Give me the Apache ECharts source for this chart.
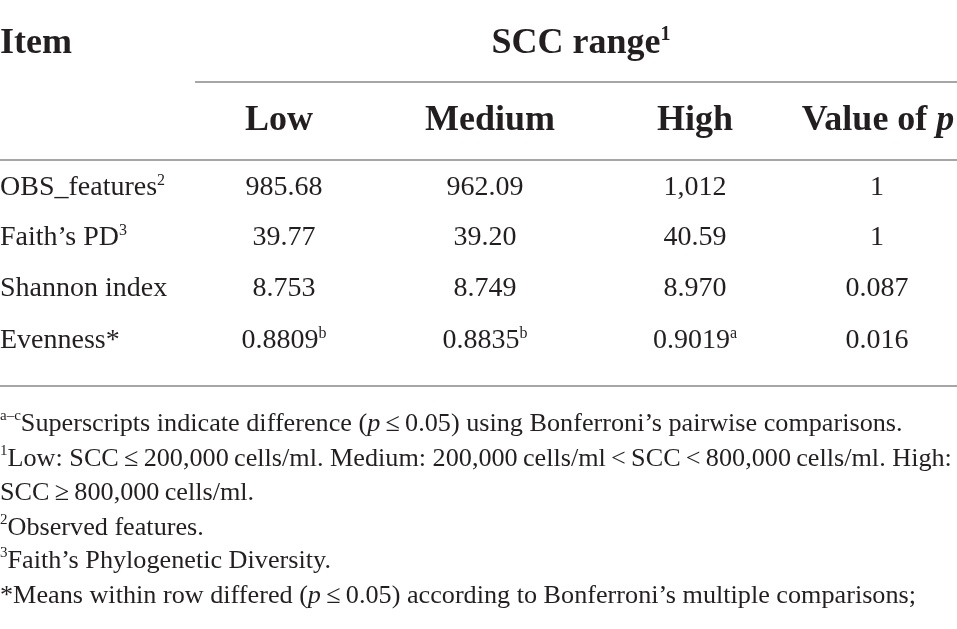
<!DOCTYPE html>
<html>
<head>
    <meta charset="utf-8">
    <title>SCC range table</title>
    <script src="https://cdn.jsdelivr.net/npm/echarts@6/dist/echarts.min.js"></script>
    <style>
        html, body { margin: 0; padding: 0; background: #ffffff; }
        #table-chart { width: 957px; height: 629px; }
    </style>
</head>
<body>
<div id="table-chart"></div>
<script>
    // table content
    var stubTitle = 'Item';
    var groupTitle = 'SCC range';
    var groupNote = '1';
    var columns = ['Low', 'Medium', 'High', 'Value of '];
    var items = ['OBS_features', 'Faith\u2019s PD', 'Shannon index', 'Evenness*'];
    var itemNotes = ['2', '3', '', ''];
    var lowValues = ['985.68', '39.77', '8.753', '0.8809'];
    var lowLetters = ['', '', '', 'b'];
    var mediumValues = ['962.09', '39.20', '8.749', '0.8835'];
    var mediumLetters = ['', '', '', 'b'];
    var highValues = ['1,012', '40.59', '8.970', '0.9019'];
    var highLetters = ['', '', '', 'a'];
    var pValues = ['1', '1', '0.087', '0.016'];
    var T = '\u2009'; // thin space
    var footnotes = [
        '{s|a\u2013c}{n|Superscripts indicate difference (}{i|p}{n|' + T + '\u2264' + T + '0.05) using Bonferroni\u2019s pairwise comparisons.}',
        '{s|1}{n|Low: SCC' + T + '\u2264' + T + '200,000' + T + 'cells/ml. Medium: 200,000' + T + 'cells/ml' + T + '<' + T + 'SCC' + T + '<' + T + '800,000' + T + 'cells/ml. High:}',
        '{n|SCC' + T + '\u2265' + T + '800,000' + T + 'cells/ml.}',
        '{s|2}{n|Observed features.}',
        '{s|3}{n|Faith\u2019s Phylogenetic Diversity.}',
        '{n|*Means within row differed (}{i|p}{n|' + T + '\u2264' + T + '0.05) according to Bonferroni\u2019s multiple comparisons;}'
    ];

    // layout (pixel units of the hidden axes)
    var colX = [284, 485, 695, 877];
    var headX = [279, 490, 695, 878];
    var groupX = 581;
    var titleY = 44;
    var headY = 121;
    var rowY = [188, 238, 289, 341];
    var noteY = [424, 459, 493, 528, 561, 596];
    var font = 'Liberation Serif';
    var ink = '#231f20';
    var rule = '#a6a6a6';

    var cells = [];
    function cell(x, y, text, align) {
        cells.push({ value: [x, y], text: text, label: { align: align || 'center' } });
    }
    function sup(v, tag) {
        return v ? '{' + (tag || 'bs') + '|' + v + '}' : '';
    }

    cell(0, titleY, '{h|' + stubTitle + '}', 'left');
    cell(groupX, titleY, '{h|' + groupTitle + '}' + sup(groupNote, 'hs'));
    columns.forEach(function (c, i) {
        var t = '{h|' + c + '}';
        if (i === 3) t += '{hi|p}';
        cell(headX[i], headY, t);
    });
    items.forEach(function (name, r) {
        cell(0, rowY[r], '{b|' + name + '}' + sup(itemNotes[r]), 'left');
        cell(colX[0], rowY[r], '{b|' + lowValues[r] + '}' + sup(lowLetters[r]));
        cell(colX[1], rowY[r], '{b|' + mediumValues[r] + '}' + sup(mediumLetters[r]));
        cell(colX[2], rowY[r], '{b|' + highValues[r] + '}' + sup(highLetters[r]));
        cell(colX[3], rowY[r], '{b|' + pValues[r] + '}');
    });
    footnotes.forEach(function (t, k) {
        cell(0, noteY[k], t, 'left');
    });

    var chart = echarts.init(document.getElementById('table-chart'));

    var option = {
        animation: false,
        backgroundColor: '#ffffff',
        grid: { left: 0, right: 0, top: 0, bottom: 0 },
        xAxis: { type: 'value', min: 0, max: 957, show: false },
        yAxis: { type: 'value', min: 0, max: 629, inverse: true, show: false },
        series: [
            {
                type: 'scatter',
                symbolSize: 0,
                silent: true,
                itemStyle: { opacity: 1 },
                data: cells,
                label: {
                    show: true,
                    position: 'inside',
                    verticalAlign: 'middle',
                    formatter: function (p) { return p.data.text; },
                    rich: {
                        b: { fontFamily: font, fontSize: 28, lineHeight: 30, color: ink },
                        bs: { fontFamily: font, fontSize: 16, lineHeight: 22, color: ink, verticalAlign: 'top' },
                        n: { fontFamily: font, fontSize: 26.2, lineHeight: 30, color: ink },
                        i: { fontFamily: font, fontSize: 26.2, lineHeight: 30, color: ink, fontStyle: 'italic' },
                        s: { fontFamily: font, fontSize: 15, lineHeight: 22, color: ink, verticalAlign: 'top' },
                        h: { fontFamily: font, fontSize: 36, lineHeight: 38, color: ink, fontWeight: 'bold' },
                        hi: { fontFamily: font, fontSize: 36, lineHeight: 38, color: ink, fontWeight: 'bold', fontStyle: 'italic' },
                        hs: { fontFamily: font, fontSize: 20, lineHeight: 28, color: ink, fontWeight: 'bold', verticalAlign: 'top' }
                    }
                }
            },
            {
                type: 'line',
                data: [],
                markLine: {
                    silent: true,
                    symbol: 'none',
                    label: { show: false },
                    lineStyle: { color: rule, width: 2, type: 'solid' },
                    data: [
                        [{ coord: [195, 82] }, { coord: [957, 82] }],
                        [{ coord: [0, 160] }, { coord: [957, 160] }],
                        [{ coord: [0, 386] }, { coord: [957, 386] }]
                    ]
                }
            }
        ]
    };

    chart.setOption(option);

    window.onresize = function () {
        chart.resize();
    };
</script>
</body>
</html>
